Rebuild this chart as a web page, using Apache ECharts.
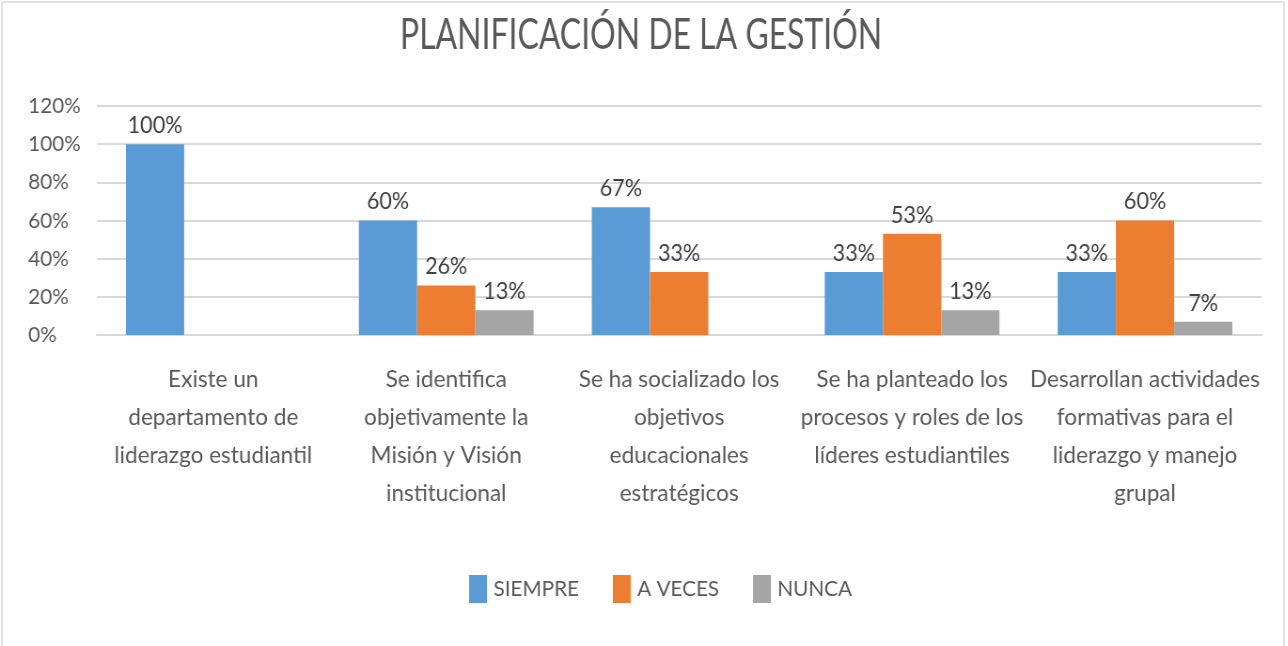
<!DOCTYPE html>
<html><head><meta charset="utf-8">
<script src="https://cdn.jsdelivr.net/npm/echarts@6/dist/echarts.min.js"></script>
<style>
html,body{margin:0;padding:0;background:#fff;overflow:hidden;width:1288px;height:646px;}
#frame{position:absolute;left:1px;top:1px;width:1284px;height:700px;border:2px solid #e3e3e3;box-sizing:border-box;}
#chart{position:absolute;left:0;top:0;width:1370px;height:646px;transform:scaleX(0.94);transform-origin:0 0;}
</style></head>
<body><div id="frame"></div><div id="chart"></div>
<script>
const chartTitle = 'PLANIFICACIÓN DE LA GESTIÓN';
const categories = [
  'Existe un\ndepartamento de\nliderazgo estudiantil',
  'Se identifica\nobjetivamente la\nMisión y Visión\ninstitucional',
  'Se ha socializado los\nobjetivos\neducacionales\nestratégicos',
  'Se ha planteado los\nprocesos y roles de los\nlíderes estudiantiles',
  'Desarrollan actividades\nformativas para el\nliderazgo y manejo\ngrupal'
];
const seriesNames = ['SIEMPRE', 'A VECES', 'NUNCA'];
const siempre = [100, 60, 67, 33, 33];
const aVeces = [null, 26, 33, 53, 60];
const nunca = [null, 13, null, 13, 7];
const yMin = 0, yMax = 120, yStep = 20;
const colors = ['#5B9BD5', '#ED7D31', '#A5A5A5'];

const FONT = 'Lato';
const chart = echarts.init(document.getElementById('chart'), null, {renderer: 'canvas'});
const mk = (name, data, color) => ({
  name: name, type: 'bar', data: data,
  itemStyle: {color: color},
  barGap: '0%', barCategoryGap: '25%',
  label: {show: true, position: 'top', distance: 7, formatter: '{c}%',
          color: '#404040', fontFamily: FONT, fontSize: 23}
});
chart.setOption({
  animation: false,
  graphic: [{type: 'text', x: 682, y: 35, scaleX: 0.79,
             style: {text: chartTitle, align: 'center', verticalAlign: 'middle',
                     font: '43px Lato', fill: '#595959'}}],
  legend: {data: seriesNames, left: 494, top: 570, itemWidth: 19, itemHeight: 28, itemGap: 36,
           icon: 'rect',
           textStyle: {fontFamily: FONT, fontSize: 22, color: '#595959', padding: [0, 0, 0, 2]}},
  grid: {left: 103, right: 28, top: 106, bottom: 311, outerBoundsMode: 'none'},
  xAxis: {type: 'category', data: categories,
          axisLine: {lineStyle: {color: '#d9d9d9', width: 2}}, axisTick: {show: false},
          axisLabel: {interval: 0, margin: 25, lineHeight: 38, fontFamily: FONT, fontSize: 24, color: '#595959'}},
  yAxis: {type: 'value', min: yMin, max: yMax, interval: yStep,
          axisLine: {show: false}, axisTick: {show: false},
          splitLine: {lineStyle: {color: '#d9d9d9', width: 2}},
          axisLabel: {formatter: '{value}%', align: 'left', margin: 73, fontFamily: FONT, fontSize: 22, color: '#595959'}},
  series: [mk(seriesNames[0], siempre, colors[0]), mk(seriesNames[1], aVeces, colors[1]), mk(seriesNames[2], nunca, colors[2])]
});
</script></body></html>
